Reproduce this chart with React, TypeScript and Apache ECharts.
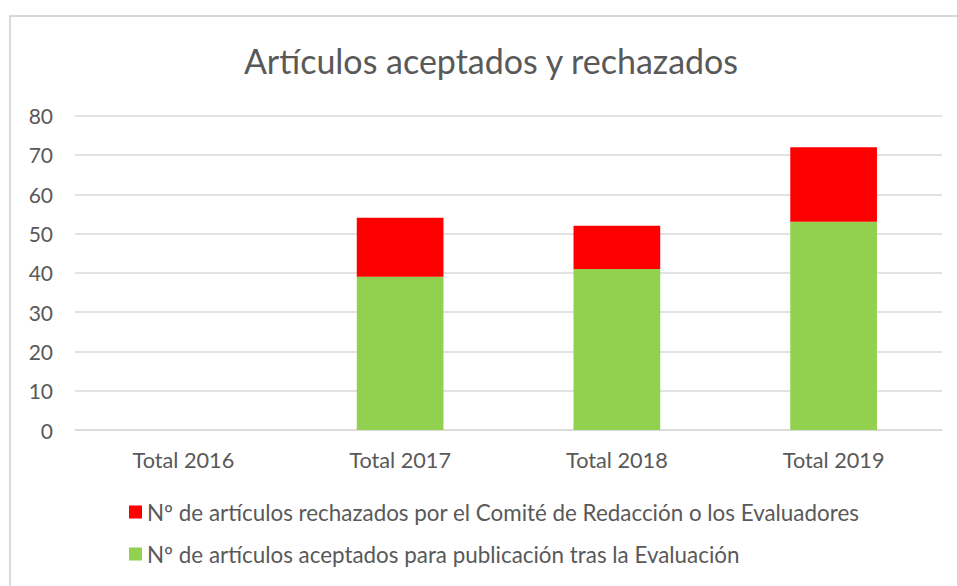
import React, { useEffect, useRef } from "react";
import * as echarts from "echarts";

const categories = ["Total 2016", "Total 2017", "Total 2018", "Total 2019"];
const accepted = [0, 39, 41, 53];
const rejected = [0, 15, 11, 19];
const seriesNames = [
  "Nº de artículos rechazados por el Comité de Redacción o los Evaluadores",
  "Nº de artículos aceptados para publicación tras la Evaluación",
];
const titleText = "Artículos aceptados y rechazados";

const FONT = "Lato, 'Open Sans', sans-serif";
const TEXT = "#595959";

export default function App() {
  const ref = useRef<HTMLDivElement>(null);
  useEffect(() => {
    if (!ref.current) return;
    const chart = echarts.init(ref.current, undefined, { renderer: "svg" });
    chart.setOption({
      animation: false,
      backgroundColor: "#ffffff",
      textStyle: { fontFamily: FONT },
      title: {
        text: titleText,
        left: 491,
        top: 43,
        textAlign: "center",
        padding: 0,
        textStyle: { fontFamily: FONT, fontSize: 34, fontWeight: "normal", color: TEXT },
      },
      graphic: [
        {
          type: "rect",
          shape: { x: 10, y: 16, width: 1000, height: 600 },
          style: { fill: "none", stroke: "#d9d9d9", lineWidth: 2 },
          silent: true,
          z: -1,
        },
      ],
      legend: {
        orient: "vertical",
        left: 129,
        top: 501,
        padding: 0,
        itemWidth: 13,
        itemHeight: 13,
        itemGap: 20,
        itemTextGap: 6,
        icon: "rect",
        data: [seriesNames[0], seriesNames[1]],
        textStyle: { fontFamily: FONT, fontSize: 22.4, color: TEXT, lineHeight: 20 },
      },
      grid: { left: 75, right: 15, top: 115.7, bottom: 156, containLabel: false },
      xAxis: {
        type: "category",
        data: categories,
        axisTick: { show: false },
        axisLine: { lineStyle: { color: "#d9d9d9", width: 1.5 } },
        axisLabel: { fontFamily: FONT, fontSize: 21.7, color: TEXT, margin: 19 },
      },
      yAxis: {
        type: "value",
        min: 0,
        max: 80,
        interval: 10,
        axisLine: { show: false },
        axisTick: { show: false },
        splitLine: { lineStyle: { color: "#d9d9d9", width: 1.5 } },
        axisLabel: { fontFamily: FONT, fontSize: 21, color: TEXT, margin: 22 },
      },
      series: [
        {
          name: seriesNames[1],
          type: "bar",
          stack: "total",
          data: accepted,
          barWidth: "40%",
          itemStyle: { color: "#92D050" },
        },
        {
          name: seriesNames[0],
          type: "bar",
          stack: "total",
          data: rejected,
          barWidth: "40%",
          itemStyle: { color: "#FF0000" },
        },
      ],
    });
    return () => chart.dispose();
  }, []);
  return (
    <div
      ref={ref}
      style={{ position: "fixed", left: 0, top: 0, width: 957, height: 586 }}
    />
  );
}
